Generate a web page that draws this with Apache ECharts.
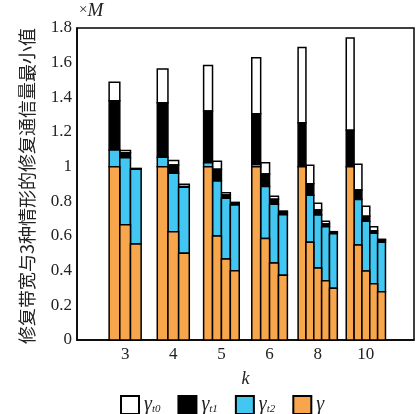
<!DOCTYPE html>
<html>
<head>
<meta charset="utf-8">
<script src="https://cdn.jsdelivr.net/npm/echarts@6/dist/echarts.min.js"></script>
<style>html,body{margin:0;padding:0;background:#fff}#c{width:417px;height:414px}</style>
</head>
<body>
<div id="c"></div>
<script>
const categories = ['3', '4', '5', '6', '8', '10'];
// segment tops per k-group, one entry per bar
const gamma   = [[1.0, 0.665, 0.554], [1.0, 0.625, 0.5], [1.0, 0.6, 0.467, 0.4], [1.0, 0.585, 0.444, 0.373], [1.0, 0.564, 0.415, 0.342, 0.298], [1.0, 0.548, 0.398, 0.325, 0.279]];
const gammaT2 = [[1.096, 1.052, 0.985], [1.054, 0.962, 0.881], [1.023, 0.917, 0.818, 0.779], [1.012, 0.885, 0.783, 0.723], [1.0, 0.835, 0.721, 0.654, 0.613], [1.0, 0.81, 0.685, 0.616, 0.564]];
const gammaT1 = [[1.381, 1.081, 0.988], [1.369, 1.01, 0.885], [1.321, 0.985, 0.837, 0.79], [1.306, 0.958, 0.812, 0.737], [1.254, 0.902, 0.75, 0.669, 0.621], [1.21, 0.866, 0.714, 0.631, 0.577]];
const gammaT0 = [[1.487, 1.093, 0.99], [1.564, 1.035, 0.898], [1.583, 1.031, 0.85, 0.794], [1.629, 1.023, 0.829, 0.744], [1.687, 1.008, 0.789, 0.685, 0.625], [1.743, 1.014, 0.771, 0.654, 0.581]];
const yTicks = [0, 0.2, 0.4, 0.6, 0.8, 1, 1.2, 1.4, 1.6, 1.8];

const axisCats = [''].concat(categories, ['']);

function build(lower, upper) {
  const out = [];
  upper.forEach((grp, g) => {
    grp.forEach((v, j) => {
      out.push([g + 1, j, grp.length, lower ? lower[g][j] : 0, v]);
    });
  });
  return out;
}

function renderItem(params, api) {
  const ci = api.value(0), j = api.value(1), n = api.value(2), lo = api.value(3), hi = api.value(4);
  const p = api.coord([ci, lo]);
  const q = api.coord([ci, hi]);
  const band = api.size([1, 0])[0];
  const gw = band * (0.44 + 0.075 * n);
  const bw = gw / n;
  const x0 = p[0] - gw / 2 + j * bw;
  return {
    type: 'rect',
    shape: { x: x0, y: q[1], width: bw, height: p[1] - q[1] },
    style: api.style()
  };
}

const serif = 'Liberation Serif';
const layers = [
  { name: 't0', lower: gammaT1, upper: gammaT0, color: '#ffffff' },
  { name: 't1', lower: gammaT2, upper: gammaT1, color: '#000000' },
  { name: 't2', lower: gamma, upper: gammaT2, color: '#41C7F1' },
  { name: 'g', lower: null, upper: gamma, color: '#F8A64C' }
];

const chart = echarts.init(document.getElementById('c'));
chart.setOption({
  animation: false,
  grid: { left: 77, right: -2, top: 28, bottom: 74, show: true, borderColor: '#000', borderWidth: 1.5 },
  xAxis: {
    type: 'category', data: axisCats, boundaryGap: false,
    axisLine: { show: true, lineStyle: { color: '#000', width: 1.5 } },
    axisTick: { show: false },
    axisLabel: { fontFamily: serif, fontSize: 17, color: '#222', margin: 6, interval: 0 },
    name: 'k', nameLocation: 'middle', nameGap: 30,
    nameTextStyle: { fontFamily: serif, fontStyle: 'italic', fontSize: 18, color: '#222' },
    splitLine: { show: false }
  },
  yAxis: {
    type: 'value', min: 0, max: 1.8, interval: 0.2,
    axisLine: { show: true, lineStyle: { color: '#000', width: 1.5 } },
    axisTick: { show: false },
    splitLine: { show: false },
    axisLabel: { fontFamily: serif, fontSize: 17, color: '#222', margin: 5,
      formatter: v => { const t = yTicks.find(x => Math.abs(x - v) < 1e-6); return String(t !== undefined ? t : v); } },
    name: '{a|×}{b|M}', nameLocation: 'end', nameGap: 8,
    nameTextStyle: { align: 'left', padding: [0, 0, 0, 2],
      rich: { a: { fontFamily: serif, fontSize: 15, color: '#222' }, b: { fontFamily: serif, fontStyle: 'italic', fontSize: 19, color: '#222' } } }
  },
  legend: {
    left: 115, top: 390, itemWidth: 18, itemHeight: 18, itemGap: 17, icon: 'rect',
    data: ['t0', 't1', 't2', 'g'],
    formatter: n => n === 'g' ? '{a|γ}' : '{a|γ}{s|' + n + '}',
    textStyle: {
      rich: {
        a: { fontFamily: serif, fontStyle: 'italic', fontSize: 20, color: '#222' },
        s: { fontFamily: serif, fontStyle: 'italic', fontSize: 11, color: '#222', verticalAlign: 'bottom', padding: [8, 0, 0, 0] }
      }
    }
  },
  graphic: [{
    type: 'text', x: 27, y: 186, rotation: Math.PI / 2,
    style: { text: '修复带宽与3种情形的修复通信量最小值', font: '18px "Noto Sans CJK SC"', fill: '#222', align: 'center', verticalAlign: 'middle' }
  }],
  series: layers.map(l => ({
    type: 'custom', name: l.name, renderItem,
    itemStyle: { color: l.color, borderColor: '#000', borderWidth: 1.5 },
    encode: { x: 0, y: 4 },
    data: build(l.lower, l.upper)
  }))
});
</script>
</body>
</html>
